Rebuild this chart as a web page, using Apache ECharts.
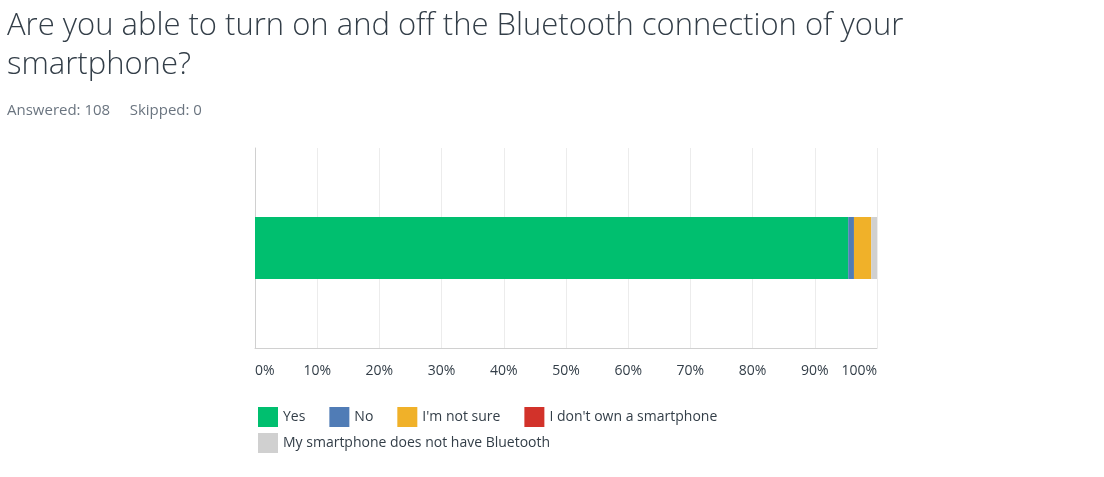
<!DOCTYPE html>
<html><head><meta charset="utf-8">
<script src="https://cdn.jsdelivr.net/npm/echarts@6/dist/echarts.min.js"></script>
<style>body{margin:0;background:#fff;font-family:"Open Sans",sans-serif}
#t{position:absolute;left:7px;top:4px;font-size:31px;color:#333e48;line-height:39px;font-weight:300;width:1000px}
#s{position:absolute;left:7px;top:99px;font-size:15px;color:#6b7580}
#c{position:absolute;left:0;top:0;width:1104px;height:477px}</style></head>
<body><div id="c"></div>
<div id="t">Are you able to turn on and off the Bluetooth connection of your smartphone?</div>
<div id="s">Answered: 108&nbsp;&nbsp;&nbsp;&nbsp;&nbsp;Skipped: 0</div>
<script>
const categories=[""];
const seriesNames=["Yes","No","I'm not sure","I don't own a smartphone","My smartphone does not have Bluetooth"];
const counts=[103,1,3,0,1];
const total=108;
const colors=["#00bf6f","#507cb6","#f0b129","#d2322a","#d0d0d0"];
const ticks=["0%","10%","20%","30%","40%","50%","60%","70%","80%","90%","100%"];
const chart=echarts.init(document.getElementById('c'));
const legBase={itemWidth:20,itemHeight:20,itemGap:24,icon:'rect',left:253,
  textStyle:{color:'#333e48',fontSize:14,fontFamily:'Open Sans'}};
chart.setOption({
 animation:false,
 grid:{left:255,right:227,top:148,bottom:129},
 xAxis:{type:'value',min:0,max:100,interval:10,
  axisLabel:{formatter:v=>ticks[v/10],color:'#333e48',fontSize:14,margin:16,fontFamily:'Open Sans',alignMinLabel:'left',alignMaxLabel:'right'},
  splitLine:{lineStyle:{color:'#ececec'}},axisLine:{show:true,lineStyle:{color:'#d0d0d0'}},axisTick:{show:false}},
 yAxis:{type:'category',data:categories,axisLine:{show:true,lineStyle:{color:'#d0d0d0'}},axisTick:{show:false},axisLabel:{show:false}},
 legend:[Object.assign({},legBase,{top:402,data:seriesNames.slice(0,4)}),
         Object.assign({},legBase,{top:428,data:seriesNames.slice(4)})],
 series:seriesNames.map((n,i)=>({name:n,type:'bar',stack:'a',barWidth:62,
  itemStyle:{color:colors[i]},data:[counts[i]/total*100]}))
});
</script></body></html>
